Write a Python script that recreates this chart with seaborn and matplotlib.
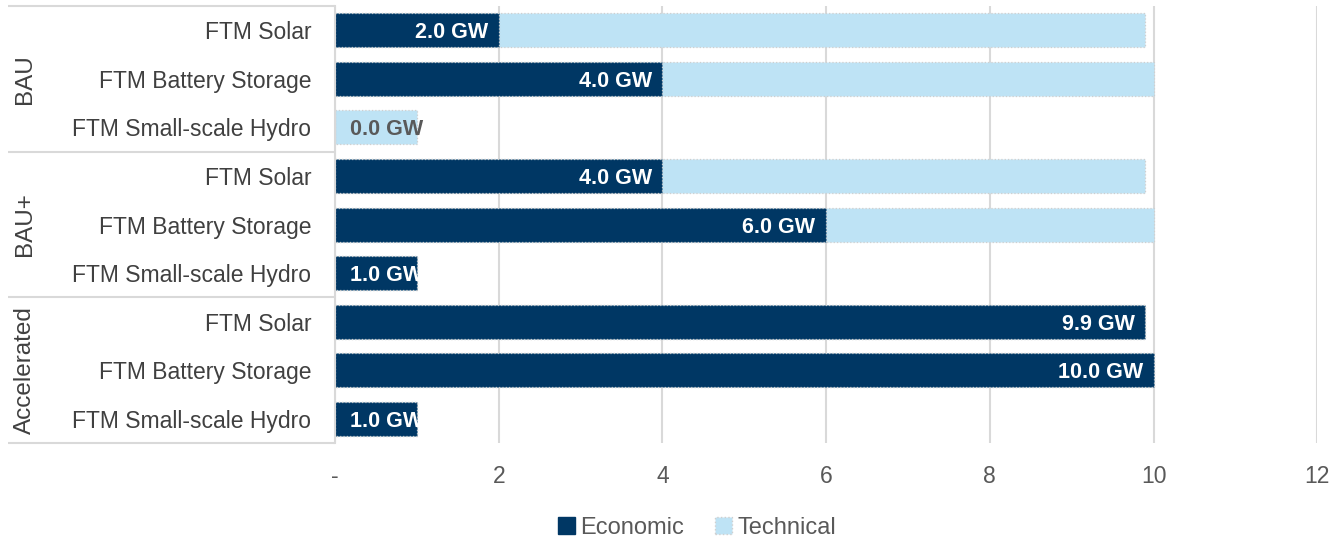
import matplotlib
matplotlib.use("Agg")
import matplotlib.pyplot as plt
import matplotlib.transforms as mtransforms
from matplotlib.patches import Patch
import seaborn as sns
import pandas as pd

# Scenario groups and technologies (rows top to bottom)
groups = ["BAU", "BAU+", "Accelerated"]
technologies = ["FTM Solar", "FTM Battery Storage", "FTM Small-scale Hydro"]

# Potential in GW for each scenario/technology row
economic = [2.0, 4.0, 0.0, 4.0, 6.0, 1.0, 9.9, 10.0, 1.0]
technical = [7.9, 6.0, 1.0, 5.9, 4.0, 0.0, 0.0, 0.0, 0.0]

x_ticks = [0, 2, 4, 6, 8, 10, 12]
x_tick_labels = ["-", "2", "4", "6", "8", "10", "12"]

DARK = "#003764"
LIGHT = "#BEE3F5"
GRID = "#D9D9D9"
TEXT = "#404040"
TICK = "#595959"

rows = [f"{g}|{t}" for g in groups for t in technologies]
df = pd.DataFrame({
    "row": rows,
    "economic": economic,
    "technical": technical,
})
df["total"] = df["economic"] + df["technical"]

sns.set_theme(style="white")
plt.rcParams["font.family"] = ["Liberation Sans", "DejaVu Sans"]

fig = plt.figure(figsize=(13.4, 5.41), dpi=100)
ax = fig.add_axes([0.25, 0.181, 0.733, 0.808])

edge_kw = dict(edgecolor="#CFCFCF", linewidth=0.9, linestyle=":")

# Technical potential stacked after the economic part
sns.barplot(data=df, x="total", y="row", order=rows, orient="h", color=LIGHT,
            saturation=1, width=0.7, ax=ax, **edge_kw)
n_light = len(ax.patches)
sns.barplot(data=df, x="economic", y="row", order=rows, orient="h", color=DARK,
            saturation=1, width=0.7, ax=ax, **edge_kw)
dark_bars = ax.patches[n_light:]

ax.set_xlim(0, 12)
ax.set_ylim(8.5, -0.5)
ax.set_xticks(x_ticks)
ax.set_xticklabels(x_tick_labels)
ax.set_yticks(range(len(rows)))
ax.set_yticklabels([r.split("|")[1] for r in rows])
ax.set_xlabel("")
ax.set_ylabel("")

ax.tick_params(axis="y", length=0, pad=17, labelsize=16.5, labelcolor=TEXT)
ax.tick_params(axis="x", length=0, pad=16, labelsize=16.5, labelcolor=TICK)

ax.grid(axis="x", color=GRID, linewidth=1.5)
ax.grid(axis="y", visible=False)
ax.set_axisbelow(True)
for side in ["top", "right", "bottom"]:
    ax.spines[side].set_visible(False)
ax.spines["left"].set_color(GRID)
ax.spines["left"].set_linewidth(1.5)

# Value labels inside the economic bars
lab_kw = dict(va="center_baseline", fontsize=15.5, fontweight="bold")
for i, (val, bar) in enumerate(zip(economic, dark_bars)):
    label = f"{val:.1f} GW"
    if val >= 1.5:
        ax.text(val - 0.13, i, label, ha="right", color="white", **lab_kw)
    elif val > 0:
        t = ax.text(0.18, i, label, ha="left", color="white", **lab_kw)
        t.set_clip_path(bar)
    else:
        ax.text(0.18, i, label, ha="left", color=TICK, **lab_kw)

# Scenario group labels and separators on the category axis
trans = mtransforms.blended_transform_factory(ax.transAxes, ax.transData)
x_left = (8 - 335) / 982
for b in [-0.5, 2.5, 5.5, 8.5]:
    ax.plot([x_left, 0], [b, b], transform=trans, color=GRID, linewidth=1.5,
            clip_on=False, solid_capstyle="butt")
x_group = (25 - 335) / 982
for gi, g in enumerate(groups):
    ax.text(x_group, gi * 3 + 1, g, transform=trans, rotation=90,
            ha="center", va="center", fontsize=17.5, color=TEXT)

handles = [Patch(facecolor=DARK, edgecolor=DARK),
           Patch(facecolor=LIGHT, edgecolor="#CFCFCF", linestyle=":")]
fig.legend(handles, ["Economic", "Technical"], loc="center",
           bbox_to_anchor=(0.52, 0.024), ncol=2, frameon=False,
           handlelength=0.75, handleheight=0.75, handletextpad=0.2,
           columnspacing=1.3, fontsize=17, labelcolor=TICK)

fig.savefig("out.png", dpi=100)
